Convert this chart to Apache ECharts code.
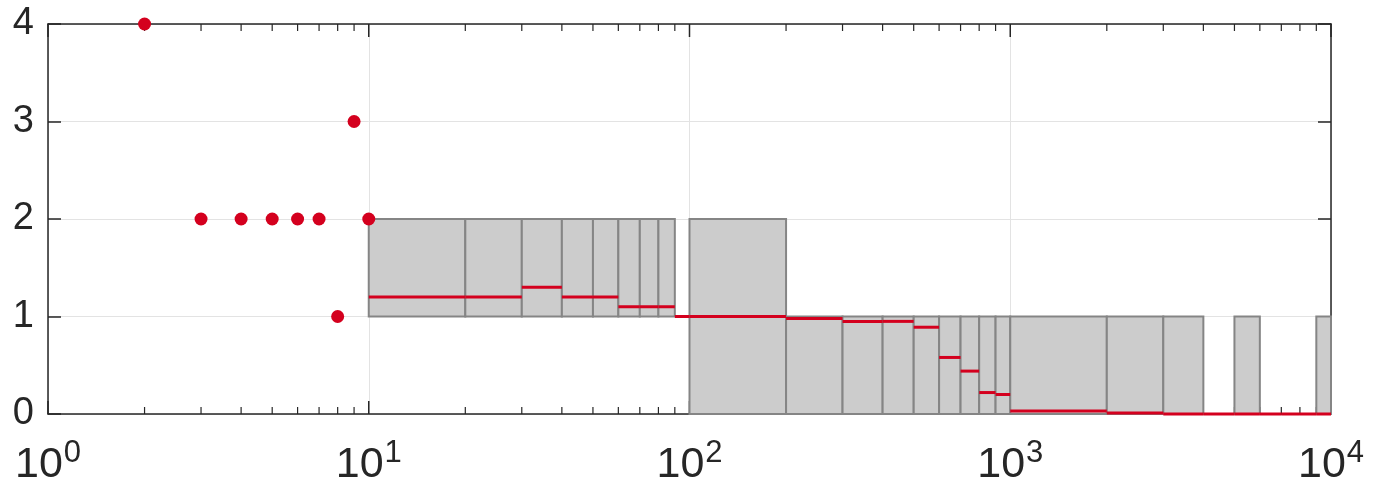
<!DOCTYPE html>
<html>
<head>
<meta charset="utf-8">
<script src="https://cdn.jsdelivr.net/npm/echarts@6/dist/echarts.min.js"></script>
<style>
  html, body { margin: 0; background: #fff; }
  #chart { width: 1400px; height: 492px; }
</style>
</head>
<body>
<div id="chart"></div>
<script>
// single points (x, y)
const pointX = [2, 3, 4, 5, 6, 7, 8, 9, 10]
const pointY = [4, 2, 2, 2, 2, 2, 1, 3, 2]

// bins: start, end, box low/high, median
const binStart = [10, 20, 30, 40, 50, 60, 70, 80, 90,
  100, 200, 300, 400, 500, 600, 700, 800, 900,
  1000, 2000, 3000, 4000, 5000, 6000, 7000, 8000, 9000]
const binEnd = [20, 30, 40, 50, 60, 70, 80, 90, 100,
  200, 300, 400, 500, 600, 700, 800, 900, 1000,
  2000, 3000, 4000, 5000, 6000, 7000, 8000, 9000, 10000]
const boxLow = [1, 1, 1, 1, 1, 1, 1, 1, 1,
  0, 0, 0, 0, 0, 0, 0, 0, 0,
  0, 0, 0, 0, 0, 0, 0, 0, 0]
const boxHigh = [2, 2, 2, 2, 2, 2, 2, 2, 1,
  2, 1, 1, 1, 1, 1, 1, 1, 1,
  1, 1, 1, 0, 1, 0, 0, 0, 1]
const binMedian = [1.2, 1.2, 1.3, 1.2, 1.2, 1.1, 1.1, 1.1, 1.0,
  1.0, 0.98, 0.95, 0.95, 0.89, 0.58, 0.44, 0.22, 0.20,
  0.03, 0.01, 0, 0, 0, 0, 0, 0, 0]

// axis ticks
const xMajorTicks = [1, 10, 100, 1000, 10000]
const xMinorTicks = [2, 3, 4, 5, 6, 7, 8, 9, 20, 30, 40, 50, 60, 70, 80, 90,
  200, 300, 400, 500, 600, 700, 800, 900, 2000, 3000, 4000, 5000, 6000, 7000, 8000, 9000]
const yTicks = [0, 1, 2, 3, 4]

const RED = '#d4001e'
const AXIS = '#262626'
const FONT = 'Liberation Sans'

const chart = echarts.init(document.getElementById('chart'))

const boxData = binStart.map((s, i) => [s, binEnd[i], boxLow[i], boxHigh[i], binMedian[i]])
const pointData = pointX.map((x, i) => [x, pointY[i]])
const tickData = xMajorTicks.map(v => [v, 1]).concat(xMinorTicks.map(v => [v, 0]))

const valAxis = (pos, extra) => Object.assign({
  type: 'value', min: 0, max: 4, interval: 1, position: pos,
  axisLine: { show: true, onZero: false, lineStyle: { color: AXIS, width: 1.5 } },
  axisTick: { show: true, inside: true, length: 13, lineStyle: { color: AXIS, width: 1.5 } },
  axisLabel: { show: false },
  splitLine: { show: false }
}, extra)

chart.setOption({
  animation: false,
  grid: { left: 48, right: 69, top: 24, bottom: 78 },
  xAxis: [
    {
      type: 'log', logBase: 10, min: 1, max: 10000, position: 'bottom',
      axisLine: { show: true, onZero: false, lineStyle: { color: AXIS, width: 1.5 } },
      axisTick: { show: false },
      splitLine: { show: true, lineStyle: { color: '#e3e3e3', width: 1 } },
      axisLabel: {
        show: true, margin: 24,
        formatter: v => '{b|10}{s|' + Math.round(Math.log10(v)) + '}',
        rich: {
          b: { fontSize: 43, fontFamily: FONT, color: AXIS },
          s: { fontSize: 31, fontFamily: FONT, color: AXIS, padding: [0, 0, 24, 1] }
        }
      }
    },
    {
      type: 'log', logBase: 10, min: 1, max: 10000, position: 'top',
      axisLine: { show: true, onZero: false, lineStyle: { color: AXIS, width: 1.5 } },
      axisTick: { show: false },
      axisLabel: { show: false },
      splitLine: { show: false }
    }
  ],
  yAxis: [
    valAxis('left', {
      axisLabel: { show: true, margin: 14, fontSize: 38, fontFamily: FONT, color: AXIS,
        customValues: yTicks },
      splitLine: { show: true, lineStyle: { color: '#e3e3e3', width: 1 } }
    }),
    valAxis('right')
  ],
  series: [
    {
      // x-axis ticks on the bottom and top frame, pointing inward (boxes cover them)
      type: 'custom',
      xAxisIndex: 0,
      yAxisIndex: 0,
      clip: false,
      silent: true,
      z: 2,
      encode: { x: 0 },
      data: tickData,
      renderItem: (params, api) => {
        const major = api.value(1) === 1
        const v = api.value(0)
        const len = major ? 13 : 7
        const b = api.coord([v, 0])
        const t = api.coord([v, 4])
        const st = { stroke: AXIS, lineWidth: major ? 1.5 : 1.2 }
        return {
          type: 'group',
          children: [
            { type: 'line', shape: { x1: b[0], y1: b[1], x2: b[0], y2: b[1] - len }, style: st },
            { type: 'line', shape: { x1: t[0], y1: t[1], x2: t[0], y2: t[1] + len }, style: st }
          ]
        }
      }
    },
    {
      type: 'custom',
      xAxisIndex: 0,
      yAxisIndex: 0,
      encode: { x: [0, 1], y: [2, 3, 4] },
      data: boxData,
      z: 3,
      renderItem: (params, api) => {
        const x0 = api.value(0), x1 = api.value(1)
        const lo = api.value(2), hi = api.value(3), med = api.value(4)
        const tl = api.coord([x0, hi])
        const br = api.coord([x1, lo])
        const m0 = api.coord([x0, med])
        const m1 = api.coord([x1, med])
        const children = []
        if (hi > lo) {
          children.push({
            type: 'rect',
            shape: { x: tl[0], y: tl[1], width: br[0] - tl[0], height: br[1] - tl[1] },
            style: { fill: '#cccccc', stroke: '#858585', lineWidth: 2 }
          })
        }
        children.push({
          type: 'line',
          z2: 5,
          shape: { x1: m0[0], y1: m0[1], x2: m1[0], y2: m1[1] },
          style: { stroke: RED, lineWidth: 3 }
        })
        return { type: 'group', children: children }
      }
    },
    {
      type: 'scatter',
      xAxisIndex: 0,
      yAxisIndex: 0,
      z: 5,
      symbol: 'circle',
      symbolSize: 13,
      itemStyle: { color: RED, opacity: 1 },
      data: pointData
    }
  ]
})
</script>
</body>
</html>
